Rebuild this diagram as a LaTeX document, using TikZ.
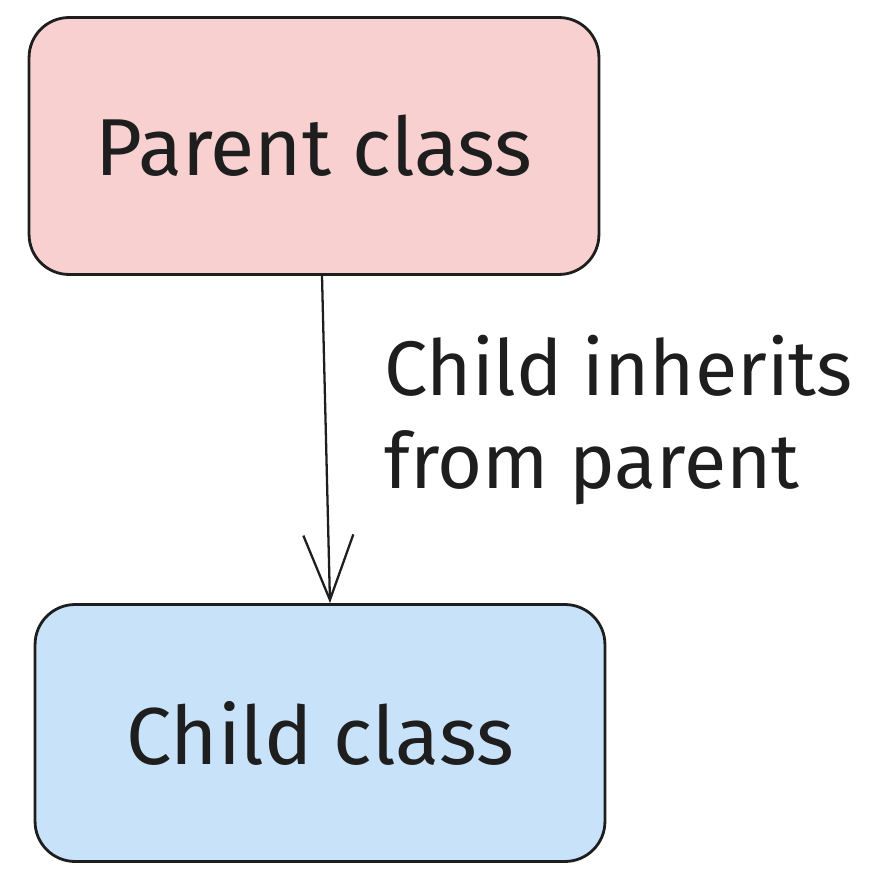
\documentclass[tikz,border=0pt]{standalone}
\usepackage{fontspec}
\setmainfont{Fira Sans}
\usetikzlibrary{arrows.meta, positioning}
\definecolor{inkdark}{HTML}{1E1E1E}
\definecolor{parentfill}{HTML}{F8D0D0}
\definecolor{childfill}{HTML}{C8E2FA}

\begin{document}
\begin{tikzpicture}[x=0.02cm, y=-0.02cm, classbox/.style={draw=inkdark, line width=1.6pt, rounded corners=0.8cm, minimum width=11.4cm, minimum height=5.14cm, align=center, font=\fontsize{46}{55}\selectfont, text=inkdark}, inherit/.style={-{Straight Barb[length=13mm, width=10mm, line width=1.3pt]}, line width=1.3pt, draw=inkdark}]
\useasboundingbox (0,0) rectangle (878,884);

\node[classbox, fill=parentfill] (parent) at (314,146) {Parent class};
\node[classbox, fill=childfill] (child) at (320,733) {Child class};
\node[anchor=west, align=left, text=inkdark, font=\fontsize{44}{53}\selectfont] (label) at (378,420) {Child inherits\\from parent};
\draw[inherit] ([xshift=0.16cm]parent.south) -- ([xshift=0.2cm]child.north);

\end{tikzpicture}
\end{document}
